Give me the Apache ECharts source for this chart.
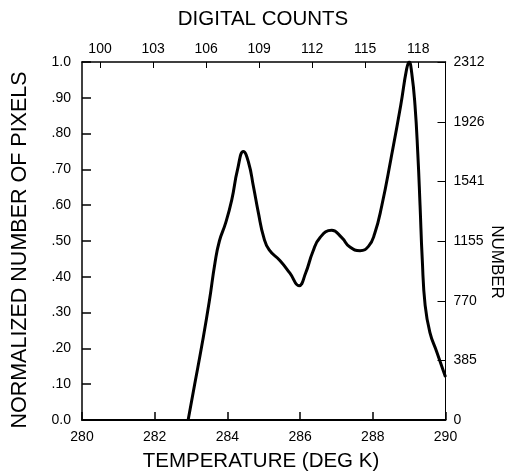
<!DOCTYPE html>
<html>
<head>
<meta charset="utf-8">
<script src="https://cdn.jsdelivr.net/npm/echarts@6/dist/echarts.min.js"></script>
<style>
  html, body { margin: 0; padding: 0; background: #fff; }
  #chart { width: 517px; height: 474px; }
</style>
</head>
<body>
<div id="chart"></div>
<script>
// Brightness temperature histogram (normalized pixel counts)
const temperature = [
  282.92, 283.10, 283.30, 283.50, 283.66, 283.78, 283.95, 284.12, 284.28,
  284.44, 284.58, 284.72, 284.85, 285.00, 285.15, 285.45, 285.72, 285.97,
  286.15, 286.35, 286.55, 286.87, 287.14, 287.37, 287.65, 287.88, 288.05,
  288.25, 288.50, 288.77, 288.93, 289.00, 289.07, 289.16, 289.24, 289.30,
  289.36, 289.44, 289.57, 289.76, 290.00
];
const normalized = [
  0.00, 0.10, 0.21, 0.33, 0.44, 0.50, 0.55, 0.615, 0.70,
  0.75, 0.72, 0.65, 0.58, 0.51, 0.475, 0.445, 0.41, 0.375,
  0.41, 0.47, 0.51, 0.53, 0.51, 0.483, 0.473, 0.485, 0.52,
  0.60, 0.73, 0.88, 0.98, 1.00, 0.97, 0.88, 0.74, 0.60,
  0.45, 0.32, 0.245, 0.19, 0.12
];

const leftTickLabels = ['0.0', '.10', '.20', '.30', '.40', '.50', '.60', '.70', '.80', '.90', '1.0'];
const countTicks = [100, 103, 106, 109, 112, 115, 118];
const numberTicks = [0, 385, 770, 1155, 1541, 1926, 2312];

const FONT = '"Liberation Sans", Arial, Helvetica, sans-serif';
const black = '#000';

const chart = echarts.init(document.getElementById('chart'), null, { renderer: 'canvas' });

const seriesData = temperature.map((t, i) => [t, normalized[i]]);

function title(text, x, y, size, rotation) {
  return {
    type: 'text', x: x, y: y, rotation: rotation || 0,
    style: {
      text: text, fill: black, font: size + 'px ' + FONT,
      align: 'center', verticalAlign: 'middle'
    }
  };
}

chart.setOption({
  backgroundColor: '#fff',
  animation: false,
  grid: {
    left: 82, top: 62, width: 363.5, height: 358,
    containLabel: false, outerBoundsMode: 'none'
  },
  xAxis: [
    {
      type: 'value', position: 'bottom', min: 280, max: 290, interval: 2,
      axisLine: { show: true, onZero: false, lineStyle: { color: black, width: 2 } },
      axisTick: { show: true, inside: true, length: 8, lineStyle: { color: black, width: 1.5 } },
      axisLabel: { fontFamily: FONT, fontSize: 14, color: black, margin: 10 },
      splitLine: { show: false }
    },
    {
      type: 'value', position: 'top', min: 98.98, max: 119.54,
      axisLine: { show: true, onZero: false, lineStyle: { color: black, width: 1.5 } },
      axisTick: { show: true, inside: true, length: 6, customValues: countTicks,
                  lineStyle: { color: black, width: 1 } },
      axisLabel: { fontFamily: FONT, fontSize: 14, color: black, margin: 6,
                   customValues: countTicks },
      splitLine: { show: false }
    }
  ],
  yAxis: [
    {
      type: 'value', position: 'left', min: 0, max: 1, interval: 0.1,
      axisLine: { show: true, onZero: false, lineStyle: { color: black, width: 1.5 } },
      axisTick: { show: true, inside: true, length: 9, lineStyle: { color: black, width: 1.5 } },
      axisLabel: {
        fontFamily: FONT, fontSize: 14, color: black, margin: 11,
        formatter: (v) => leftTickLabels[Math.round(v * 10)]
      },
      splitLine: { show: false }
    },
    {
      type: 'value', position: 'right', min: 0, max: 2312,
      axisLine: { show: true, onZero: false, lineStyle: { color: black, width: 1 } },
      axisTick: { show: true, inside: true, length: 8, customValues: numberTicks,
                  lineStyle: { color: black, width: 1 } },
      axisLabel: { fontFamily: FONT, fontSize: 14, color: black, margin: 8,
                   customValues: numberTicks, formatter: (v) => String(v) },
      splitLine: { show: false }
    }
  ],
  graphic: [
    title('DIGITAL COUNTS', 263, 19, 20.5),
    title('TEMPERATURE (DEG K)', 261, 461, 20.5),
    title('NORMALIZED NUMBER OF PIXELS', 20.5, 250, 21.5, Math.PI / 2),
    title('NUMBER', 497, 262, 17, -Math.PI / 2)
  ],
  series: [
    {
      type: 'line',
      xAxisIndex: 0, yAxisIndex: 0,
      data: seriesData,
      showSymbol: false,
      smooth: 0.5,
      lineStyle: { color: black, width: 3 },
      clip: true
    }
  ]
});
</script>
</body>
</html>
